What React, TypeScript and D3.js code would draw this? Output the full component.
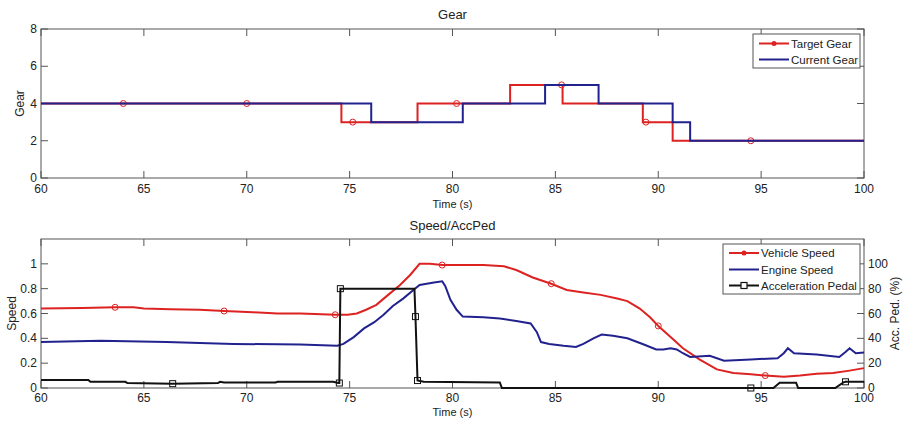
import React from "react";
import * as d3 from "d3";

// ---------- Data ----------
const gearTicksY = [0, 2, 4, 6, 8];
const timeTicks = [60, 65, 70, 75, 80, 85, 90, 95, 100];
const speedTicks = [0, 0.2, 0.4, 0.6, 0.8, 1];
const pedalTicks = [0, 20, 40, 60, 80, 100];

const targetGearTimes = [60, 74.6, 78.3, 82.8, 85.35, 89.25, 90.7, 100];
const targetGearValues = [4, 3, 4, 5, 4, 3, 2, 2];
const currentGearTimes = [60, 76.05, 80.5, 84.5, 87.1, 90.7, 91.55, 100];
const currentGearValues = [4, 3, 4, 5, 4, 3, 2, 2];
const targetMarkerTimes = [64, 70, 75.15, 80.2, 85.3, 89.4, 94.5];
const targetMarkerValues = [4, 4, 3, 4, 5, 3, 2];

const vehicleSpeed: [number, number][] = [
  [60, 0.64], [62, 0.645], [63.6, 0.65], [64.5, 0.65], [65, 0.64], [66.3, 0.635], [67.7, 0.63],
  [68.9, 0.62], [70.3, 0.61], [71.5, 0.6], [72.6, 0.6], [73.3, 0.595], [74.3, 0.59], [74.9, 0.59],
  [75.35, 0.6], [75.8, 0.63], [76.3, 0.67], [76.8, 0.74], [77.45, 0.83], [77.94, 0.91],
  [78.4, 1.0], [78.9, 1.0], [79.5, 0.99], [80.5, 0.99], [81.5, 0.99], [82.5, 0.98], [83.1, 0.95],
  [83.9, 0.89], [84.8, 0.84], [85.55, 0.79], [86.36, 0.77], [87.2, 0.75], [88.0, 0.72],
  [88.5, 0.7], [89.1, 0.64], [89.6, 0.57], [90.0, 0.5], [90.6, 0.41], [91.2, 0.32], [92.0, 0.23],
  [92.85, 0.15], [93.65, 0.12], [94.5, 0.11], [95.2, 0.1], [96.1, 0.09], [96.9, 0.1],
  [97.7, 0.115], [98.5, 0.12], [99.3, 0.14], [100, 0.16],
];
const vehicleMarkerTimes = [63.6, 68.9, 74.3, 79.5, 84.8, 90.0, 95.2];
const vehicleMarkerValues = [0.65, 0.62, 0.59, 0.99, 0.84, 0.5, 0.1];

const engineSpeed: [number, number][] = [
  [60, 0.37], [62.9, 0.38], [66.1, 0.37], [69.35, 0.355], [72.6, 0.35], [74.4, 0.34],
  [74.7, 0.355], [75.2, 0.41], [75.7, 0.48], [76.2, 0.53], [76.65, 0.59], [77.1, 0.66],
  [77.6, 0.72], [78.1, 0.79], [78.4, 0.83], [79.1, 0.85], [79.5, 0.86], [79.65, 0.82],
  [79.9, 0.71], [80.2, 0.63], [80.5, 0.575], [81.5, 0.57], [82.3, 0.56], [83.1, 0.54],
  [83.8, 0.52], [84.1, 0.45], [84.3, 0.37], [84.7, 0.355], [85.4, 0.34], [86.0, 0.33],
  [86.36, 0.355], [86.85, 0.4], [87.25, 0.43], [87.8, 0.42], [88.5, 0.4], [89.3, 0.35],
  [89.9, 0.31], [90.25, 0.31], [90.6, 0.32], [90.9, 0.31], [91.2, 0.28], [91.55, 0.25],
  [92.5, 0.26], [93.2, 0.22], [94.5, 0.23], [95.8, 0.24], [96.1, 0.28], [96.3, 0.32],
  [96.6, 0.28], [97.7, 0.27], [98.8, 0.25], [99.1, 0.29], [99.3, 0.32], [99.6, 0.28], [100, 0.285],
];

const accPedal: [number, number][] = [
  [60, 6.5], [62.3, 6.5], [62.4, 5], [64.1, 5], [64.2, 4], [66.4, 3.5], [68.6, 4],
  [68.7, 5], [68.9, 4.5], [71.4, 4.5], [71.5, 5], [74.2, 5], [74.45, 4], [74.5, 4],
  [74.55, 80], [78.15, 80], [78.2, 57.5], [78.3, 6], [78.6, 5], [82.3, 4.5], [82.4, 0],
  [95.6, 0], [95.9, 4.3], [96.7, 4.3], [96.8, 0], [98.6, 0], [99.0, 4.5], [99.1, 5], [100, 5],
];
const pedalMarkerTimes = [66.4, 74.5, 74.55, 78.2, 78.3, 94.5, 99.1];
const pedalMarkerValues = [3.5, 4, 80, 57.5, 6, 0, 5];

// ---------- Layout ----------
const W = 906;
const H = 421;
const left = 41;
const right = 864;
const top1 = 29;
const bottom1 = 178;
const top2 = 239;
const bottom2 = 388;

const RED = "#dd2222";
const BLUE = "#22228f";
const BLACK = "#111111";
const AXIS = "#555555";
const FONT = "'Liberation Sans', Arial, sans-serif";

export default function App() {
  const x = d3.scaleLinear().domain([60, 100]).range([left, right]);
  const yGear = d3.scaleLinear().domain([0, 8]).range([bottom1, top1]);
  const ySpeed = d3.scaleLinear().domain([0, 1.2]).range([bottom2, top2]);
  const yPedal = d3.scaleLinear().domain([0, 120]).range([bottom2, top2]);

  const stepLine = d3
    .line<[number, number]>()
    .x((d) => x(d[0]))
    .y((d) => yGear(d[1]))
    .curve(d3.curveStepAfter);
  const targetPts = targetGearTimes.map((t, i) => [t, targetGearValues[i]] as [number, number]);
  const currentPts = currentGearTimes.map((t, i) => [t, currentGearValues[i]] as [number, number]);

  const speedLine = d3
    .line<[number, number]>()
    .x((d) => x(d[0]))
    .y((d) => ySpeed(d[1]));
  const pedalLine = d3
    .line<[number, number]>()
    .x((d) => x(d[0]))
    .y((d) => yPedal(d[1]));

  const tickLen = 7;

  const xTicks = (top: number, bottom: number, labelY: number) =>
    timeTicks.map((t) => (
      <g key={t}>
        <line x1={x(t)} x2={x(t)} y1={bottom} y2={bottom - tickLen} stroke={AXIS} />
        <line x1={x(t)} x2={x(t)} y1={top} y2={top + tickLen} stroke={AXIS} />
        <text x={x(t)} y={labelY} textAnchor="middle" fontSize={12} fill="#222">
          {t}
        </text>
      </g>
    ));

  return (
    <svg
      width={W}
      height={H}
      style={{ position: "absolute", left: 0, top: 0, background: "#fff" }}
      fontFamily={FONT}
    >
      <rect x={0} y={0} width={W} height={H} fill="#fff" />
      {/* ---------- Gear panel ---------- */}
      <text x={(left + right) / 2} y={19} textAnchor="middle" fontSize={13} fill="#222">
        Gear
      </text>
      <rect x={left} y={top1} width={right - left} height={bottom1 - top1} fill="none" stroke={AXIS} />
      {xTicks(top1, bottom1, 193)}
      {gearTicksY.map((v) => (
        <g key={v}>
          <line x1={left} x2={left + tickLen} y1={yGear(v)} y2={yGear(v)} stroke={AXIS} />
          <line x1={right} x2={right - tickLen} y1={yGear(v)} y2={yGear(v)} stroke={AXIS} />
          <text x={37} y={yGear(v) + 4} textAnchor="end" fontSize={12} fill="#222">
            {v}
          </text>
        </g>
      ))}
      <text x={(left + right) / 2} y={208} textAnchor="middle" fontSize={11} fill="#222">
        Time (s)
      </text>
      <text
        transform={`translate(24,${(top1 + bottom1) / 2}) rotate(-90)`}
        textAnchor="middle"
        fontSize={12}
        fill="#222"
      >
        Gear
      </text>
      <path d={stepLine(targetPts) ?? ""} fill="none" stroke={RED} strokeWidth={2} />
      {targetMarkerTimes.map((t, i) => (
        <circle key={i} cx={x(t)} cy={yGear(targetMarkerValues[i])} r={3} fill="none" stroke={RED} strokeWidth={1} />
      ))}
      <path d={stepLine(currentPts) ?? ""} fill="none" stroke={BLUE} strokeWidth={2} />
      {/* gear legend */}
      <rect x={753} y={34} width={107} height={34} fill="#fff" stroke={AXIS} />
      <line x1={759} x2={789} y1={43.5} y2={43.5} stroke={RED} strokeWidth={2} />
      <circle cx={774} cy={43.5} r={2.5} fill={RED} />
      <text x={791} y={47.5} fontSize={11.5} fill="#222">
        Target Gear
      </text>
      <line x1={759} x2={789} y1={59.5} y2={59.5} stroke={BLUE} strokeWidth={2} />
      <text x={791} y={63.5} fontSize={11.5} fill="#222">
        Current Gear
      </text>

      {/* ---------- Speed panel ---------- */}
      <text x={(left + right) / 2} y={230} textAnchor="middle" fontSize={13} fill="#222">
        Speed/AccPed
      </text>
      <rect x={left} y={top2} width={right - left} height={bottom2 - top2} fill="none" stroke={AXIS} />
      {xTicks(top2, bottom2, 402)}
      {speedTicks.map((v) => (
        <g key={v}>
          <line x1={left} x2={left + tickLen} y1={ySpeed(v)} y2={ySpeed(v)} stroke={AXIS} />
          <text x={37} y={ySpeed(v) + 4} textAnchor="end" fontSize={12} fill="#222">
            {v}
          </text>
        </g>
      ))}
      {pedalTicks.map((v) => (
        <g key={v}>
          <line x1={right} x2={right - tickLen} y1={yPedal(v)} y2={yPedal(v)} stroke={AXIS} />
          <text x={868} y={yPedal(v) + 4} textAnchor="start" fontSize={12} fill="#222">
            {v}
          </text>
        </g>
      ))}
      <text x={(left + right) / 2} y={416} textAnchor="middle" fontSize={11} fill="#222">
        Time (s)
      </text>
      <text
        transform={`translate(16,${(top2 + bottom2) / 2}) rotate(-90)`}
        textAnchor="middle"
        fontSize={12}
        fill="#222"
      >
        Speed
      </text>
      <text
        transform={`translate(899,${(top2 + bottom2) / 2}) rotate(-90)`}
        textAnchor="middle"
        fontSize={12}
        fill="#222"
      >
        Acc. Ped. (%)
      </text>
      <path d={speedLine(vehicleSpeed) ?? ""} fill="none" stroke={RED} strokeWidth={2} />
      {vehicleMarkerTimes.map((t, i) => (
        <circle key={i} cx={x(t)} cy={ySpeed(vehicleMarkerValues[i])} r={3} fill="none" stroke={RED} strokeWidth={1} />
      ))}
      <path d={speedLine(engineSpeed) ?? ""} fill="none" stroke={BLUE} strokeWidth={2} />
      <path d={pedalLine(accPedal) ?? ""} fill="none" stroke={BLACK} strokeWidth={2} />
      {pedalMarkerTimes.map((t, i) => (
        <rect
          key={i}
          x={x(t) - 3}
          y={yPedal(pedalMarkerValues[i]) - 3}
          width={6}
          height={6}
          fill="none"
          stroke={BLACK}
          strokeWidth={1}
        />
      ))}
      {/* speed legend */}
      <rect x={723} y={244} width={137} height={50} fill="#fff" stroke={AXIS} />
      <line x1={729} x2={759} y1={253} y2={253} stroke={RED} strokeWidth={2} />
      <circle cx={744} cy={253} r={2.5} fill={RED} />
      <text x={761} y={257} fontSize={11.5} fill="#222">
        Vehicle Speed
      </text>
      <line x1={729} x2={759} y1={269.5} y2={269.5} stroke={BLUE} strokeWidth={2} />
      <text x={761} y={273.5} fontSize={11.5} fill="#222">
        Engine Speed
      </text>
      <line x1={729} x2={759} y1={285.5} y2={285.5} stroke={BLACK} strokeWidth={2} />
      <rect x={741} y={282.5} width={6} height={6} fill="#fff" stroke={BLACK} strokeWidth={1.2} />
      <text x={761} y={289.5} fontSize={11.5} fill="#222">
        Acceleration Pedal
      </text>
    </svg>
  );
}
